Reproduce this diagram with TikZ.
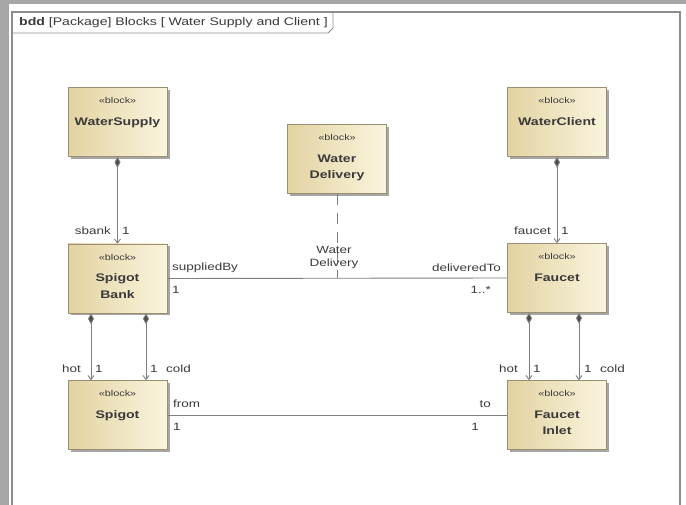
\documentclass[tikz,border=0pt]{standalone}
\usepackage{fontspec}
\setmainfont{Liberation Sans}
\newfontfamily\diag[FakeStretch=1.28]{Liberation Sans}
\usetikzlibrary{arrows.meta,shadows,calc}

\definecolor{txt}{HTML}{3A3A3A}
\definecolor{blockline}{HTML}{9A8F70}
\definecolor{blockdark}{HTML}{E3D3A2}
\definecolor{blocklight}{HTML}{FAF5DE}
\definecolor{wire}{HTML}{7F7F7F}
\definecolor{framegray}{HTML}{8C8C8C}
\definecolor{outer}{HTML}{A6A6A6}

% block body: stereotype on top, bold name below
\newcommand{\blk}[1]{\parbox[t][62pt][t]{99pt}{\centering\diag\vspace*{6.5pt}%
  {\fontsize{8.5}{9}\selectfont «block»\par}\vspace{5pt}%
  {\fontsize{11}{16.5}\selectfont\bfseries #1\par}}}

\tikzset{
  blockbox/.style={rectangle, draw=blockline, line width=0.6pt,
    left color=blockdark, right color=blocklight,
    minimum width=99pt, minimum height=69pt, inner sep=0pt, text=txt,
    drop shadow={shadow xshift=2.5pt, shadow yshift=-2.5pt, fill=black, opacity=.35}},
  comp/.style={draw=wire, line width=0.9pt,
    {Diamond[fill=black!70, length=11pt, width=6pt]}-{Straight Barb[length=4pt, width=6pt]}},
  assoc/.style={draw=wire, line width=0.9pt},
  lbl/.style={font=\diag\fontsize{10.5}{12}\selectfont, text=txt, inner sep=0pt},
}

\begin{document}
\begin{tikzpicture}[x=1pt, y=-1pt]
\useasboundingbox (0,0) rectangle (686,505);
% outer grey margin and page
\fill[outer] (0,0) rectangle (686,505);
\fill[white] (9,4) rectangle (686,505);

% diagram frame with its name tab
\draw[framegray, line width=1.3pt] (12,512) -- (12,12) -- (680,12) -- (680,512);
\draw[framegray, line width=0.8pt] (12,33) -- (328,33) -- (333,28) -- (333,12);
\node[lbl, anchor=west, font=\diag\fontsize{11}{12}\selectfont] (title) at (19,22.5)
  {\textbf{bdd} [Package] Blocks [ Water Supply and Client ]};

% blocks
\node[blockbox] (ws) at (117.5,122) {\blk{WaterSupply}};
\node[blockbox] (wc) at (557,122) {\blk{WaterClient}};
\node[blockbox] (wd) at (337,159) {\blk{Water\\Delivery}};
\node[blockbox] (sb) at (117.5,278.5) {\blk{Spigot\\Bank}};
\node[blockbox] (fc) at (557,278) {\blk{Faucet}};
\node[blockbox] (sp) at (117.5,415) {\blk{Spigot}};
\node[blockbox] (fi) at (557,415) {\blk{Faucet\\Inlet}};

% compositions
\draw[comp] (ws.south) -- (sb.north);
\draw[comp] (wc.south) -- (fc.north);
\draw[comp] ([xshift=-26.5pt]sb.south) -- ([xshift=-26.5pt]sp.north);
\draw[comp] ([xshift=28.5pt]sb.south) -- ([xshift=28.5pt]sp.north);
\draw[comp] ([xshift=-28pt]fc.south) -- ([xshift=-28pt]fi.north);
\draw[comp] ([xshift=22pt]fc.south) -- ([xshift=22pt]fi.north);

% associations
\draw[assoc] (sb.east) -- (fc.west);
\draw[assoc] (sp.east) -- (fi.west);
\coordinate (mid) at ($(sb.east)!0.5!(fc.west)$);
\draw[wire, line width=0.8pt, dash pattern=on 11pt off 8pt] (wd.south) -- (wd.south |- mid);

% association name
\node[lbl, align=center] (wdname) at (334,257) {Water\\[1pt]Delivery};

% role names and multiplicities
\node[lbl, anchor=east] (r1) at (111,231) {sbank};
\node[lbl, anchor=west] (m1) at (122,231) {1};
\node[lbl, anchor=east] (r2) at (551,231) {faucet};
\node[lbl, anchor=west] (m2) at (561,231) {1};

\node[lbl, anchor=west] (r3) at (172,268) {suppliedBy};
\node[lbl, anchor=west] (m3) at (172,290) {1};
\node[lbl, anchor=east] (r4) at (501,268) {deliveredTo};
\node[lbl, anchor=east] (m4) at (491,290) {1..*};

\node[lbl, anchor=east] (r5) at (81,369) {hot};
\node[lbl, anchor=west] (m5) at (95,369) {1};
\node[lbl, anchor=west] (m6) at (150,369) {1};
\node[lbl, anchor=west] (r6) at (166,369) {cold};

\node[lbl, anchor=east] (r7) at (518,369) {hot};
\node[lbl, anchor=west] (m7) at (533,369) {1};
\node[lbl, anchor=west] (m8) at (584,369) {1};
\node[lbl, anchor=west] (r8) at (600,369) {cold};

\node[lbl, anchor=west] (r9) at (173,404) {from};
\node[lbl, anchor=west] (m9) at (173,427) {1};
\node[lbl, anchor=east] (r10) at (491,404) {to};
\node[lbl, anchor=east] (m10) at (479,427) {1};
\end{tikzpicture}
\end{document}
